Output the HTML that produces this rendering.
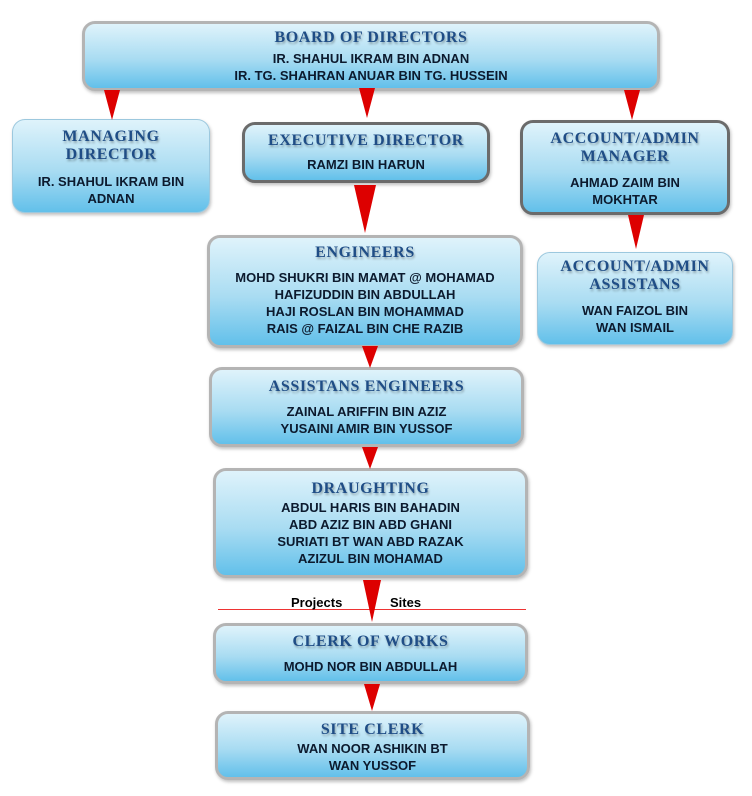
<!DOCTYPE html>
<html><head><style>
body{margin:0;width:752px;height:796px;background:#fff;position:relative;overflow:hidden;font-family:"Liberation Sans",sans-serif}
.b{position:absolute;box-sizing:border-box;border-radius:13px;background:linear-gradient(#dff3fb,#a9dcf2 55%,#62c0ea);text-align:center;border:3px solid #b4b4b4;box-shadow:1px 2px 3px rgba(0,0,0,.25)}
.d{border-color:#6b6b6b}
.n{border:1px solid #9cc8de}
.t{font-family:"Liberation Serif",serif;font-weight:bold;font-size:16px;color:#1f4d86;letter-spacing:.6px;text-shadow:1px 2px 2px rgba(0,0,0,.3);line-height:18px}
.p{font-weight:bold;font-size:13px;color:#0c1a2e;line-height:17px}
.a{position:absolute;width:0;height:0;border-left:8px solid transparent;border-right:8px solid transparent;border-top:30px solid #d00}
</style></head><body>
<div class="b" style="left:82px;top:21px;width:578px;height:70px;padding-top:5px"><div class="t">BOARD OF DIRECTORS</div><div class="p" style="margin-top:3px">IR. SHAHUL IKRAM BIN ADNAN<br>IR. TG. SHAHRAN ANUAR BIN TG. HUSSEIN</div></div>
<div class="b n" style="left:12px;top:119px;width:198px;height:94px;padding-top:8px"><div class="t">MANAGING<br>DIRECTOR</div><div class="p" style="margin-top:9px">IR. SHAHUL IKRAM BIN<br>ADNAN</div></div>
<div class="b d" style="left:242px;top:122px;width:248px;height:61px;padding-top:7px"><div class="t">EXECUTIVE DIRECTOR</div><div class="p" style="margin-top:6px">RAMZI BIN HARUN</div></div>
<div class="b d" style="left:520px;top:120px;width:210px;height:95px;padding-top:7px"><div class="t">ACCOUNT/ADMIN<br>MANAGER</div><div class="p" style="margin-top:8px">AHMAD ZAIM BIN<br>MOKHTAR</div></div>
<div class="b" style="left:207px;top:235px;width:316px;height:113px;padding-top:6px"><div class="t">ENGINEERS</div><div class="p" style="margin-top:7px">MOHD SHUKRI BIN MAMAT @ MOHAMAD<br>HAFIZUDDIN BIN ABDULLAH<br>HAJI ROSLAN BIN MOHAMMAD<br>RAIS @ FAIZAL BIN CHE RAZIB</div></div>
<div class="b n" style="left:537px;top:252px;width:196px;height:93px;padding-top:5px"><div class="t">ACCOUNT/ADMIN<br>ASSISTANS</div><div class="p" style="margin-top:8px">WAN FAIZOL BIN<br>WAN ISMAIL</div></div>
<div class="b" style="left:209px;top:367px;width:315px;height:80px;padding-top:8px"><div class="t">ASSISTANS ENGINEERS</div><div class="p" style="margin-top:7px">ZAINAL ARIFFIN BIN AZIZ<br>YUSAINI AMIR BIN YUSSOF</div></div>
<div class="b" style="left:213px;top:468px;width:315px;height:110px;padding-top:9px"><div class="t">DRAUGHTING</div><div class="p" style="margin-top:1px">ABDUL HARIS BIN BAHADIN<br>ABD AZIZ BIN ABD GHANI<br>SURIATI BT WAN ABD RAZAK<br>AZIZUL BIN MOHAMAD</div></div>
<div class="b" style="left:213px;top:623px;width:315px;height:61px;padding-top:7px"><div class="t">CLERK OF WORKS</div><div class="p" style="margin-top:7px">MOHD NOR BIN ABDULLAH</div></div>
<div class="b" style="left:215px;top:711px;width:315px;height:69px;padding-top:7px"><div class="t">SITE CLERK</div><div class="p" style="margin-top:1px">WAN NOOR ASHIKIN BT<br>WAN YUSSOF</div></div>
<div style="position:absolute;left:218px;top:609px;width:308px;height:0;border-top:1px solid #ee3333"></div>
<div style="position:absolute;left:291px;top:595px;font-size:13px;font-weight:bold">Projects</div>
<div style="position:absolute;left:390px;top:595px;font-size:13px;font-weight:bold">Sites</div>
<div class="a" style="left:104px;top:90px"></div>
<div class="a" style="left:359px;top:88px"></div>
<div class="a" style="left:624px;top:90px"></div>
<div class="a" style="left:354px;top:185px;border-left-width:11px;border-right-width:11px;border-top-width:48px"></div>
<div class="a" style="left:628px;top:215px;border-top-width:34px"></div>
<div class="a" style="left:362px;top:346px;border-top-width:22px"></div>
<div class="a" style="left:362px;top:447px;border-top-width:22px"></div>
<div class="a" style="left:363px;top:580px;border-left-width:9px;border-right-width:9px;border-top-width:42px"></div>
<div class="a" style="left:364px;top:684px;border-top-width:27px"></div>
</body></html>
